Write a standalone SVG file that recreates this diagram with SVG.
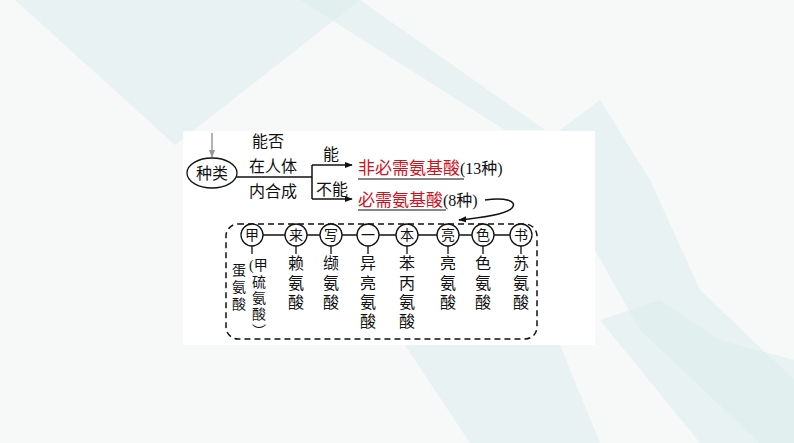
<svg xmlns="http://www.w3.org/2000/svg" width="794" height="443" viewBox="0 0 794 443">
<defs>
<style>
.t{font-family:"Liberation Serif","Noto Sans CJK SC",serif;font-size:16px;fill:#111}
.c{text-anchor:middle}
.r{fill:#d4101c;font-size:17px}
.s{font-size:14px}
.ln{stroke:#111;stroke-width:1.5;fill:none}
.cir{stroke:#111;stroke-width:1.3;fill:#fff}
.bg{fill:#d6ecec;opacity:0.45}
</style>
<marker id="ah" viewBox="0 0 10 10" refX="9" refY="5" markerWidth="8" markerHeight="8" orient="auto" markerUnits="userSpaceOnUse"><path d="M0,1 L10,5 L0,9 Z" fill="#111"/></marker>
<marker id="ahg" viewBox="0 0 10 10" refX="9" refY="5" markerWidth="8" markerHeight="8" orient="auto" markerUnits="userSpaceOnUse"><path d="M0,1 L10,5 L0,9 Z" fill="#999"/></marker>
</defs>
<rect width="794" height="443" fill="#f7f8f8"/>
<g id="background">
<polygon class="bg" points="15,0 360,0 175,145"/>
<polygon class="bg" points="360,0 300,0 505,130 545,130"/>
<polygon class="bg" points="560,130 600,100 650,180 700,290 794,380 794,443 760,443 640,330 595,250"/>
<polygon class="bg" points="405,345 560,345 600,443 470,443"/>
<polygon class="bg" points="600,320 660,300 720,340 794,360 794,443 700,443"/>
</g>
<rect x="183" y="131" width="412" height="214" fill="#fff"/>
<g id="connectors">
<line x1="212" y1="133" x2="212" y2="157" stroke="#999" stroke-width="1.5" marker-end="url(#ahg)"/>
<line class="ln" x1="236" y1="177" x2="312" y2="177"/>
<line class="ln" x1="312" y1="165" x2="312" y2="199"/>
<line class="ln" x1="312" y1="165" x2="352" y2="165" marker-end="url(#ah)"/>
<line class="ln" x1="312" y1="199" x2="352" y2="199" marker-end="url(#ah)"/>
<path class="ln" d="M485,200 C505,197 518,201 512,208 C506,215 480,218 459,220" marker-end="url(#ah)"/>
<line class="ln" x1="252" y1="235" x2="521" y2="235"/>
<g stroke="#111" stroke-width="1.3">
<line x1="252" y1="246" x2="252" y2="254"/>
<line x1="296" y1="246" x2="296" y2="254"/>
<line x1="331" y1="246" x2="331" y2="254"/>
<line x1="368" y1="246" x2="368" y2="254"/>
<line x1="407" y1="246" x2="407" y2="254"/>
<line x1="448" y1="246" x2="448" y2="254"/>
<line x1="483" y1="246" x2="483" y2="254"/>
<line x1="521" y1="246" x2="521" y2="254"/>
</g>
</g>
<g id="node-zhonglei">
<ellipse cx="212" cy="173" rx="25" ry="15" class="cir"/>
<text class="t c" x="212" y="179">种类</text>
</g>
<g id="label-question">
<text class="t c" x="268" y="147">能否</text>
<text class="t c" x="273" y="172">在人体</text>
<text class="t c" x="273" y="197">内合成</text>
</g>
<g id="label-yes"><text class="t c" x="331" y="160">能</text></g>
<g id="label-no"><text class="t c" x="332" y="195">不能</text></g>
<g id="node-nonessential">
<text class="t" x="358" y="174"><tspan class="r">非必需氨基酸</tspan>(13种)</text>
<line x1="358" y1="179" x2="464" y2="179" stroke="#111" stroke-width="1.2"/>
</g>
<g id="node-essential">
<text class="t" x="358" y="206"><tspan class="r">必需氨基酸</tspan>(8种)</text>
<line x1="358" y1="210" x2="446" y2="210" stroke="#111" stroke-width="1.2"/>
</g>
<g id="node-essential-list">
<rect x="226" y="224" width="311" height="115" rx="12" fill="none" stroke="#111" stroke-width="1.5" stroke-dasharray="6,4"/>
</g>
<g id="n-jia"><circle cx="252" cy="235" r="11" class="cir"/><text class="t c s" x="252" y="240">甲</text>
<text class="t" x="249" y="270" style="font-size:14px">(甲</text>
<text class="t c s" x="259" y="287">硫</text>
<text class="t c s" x="259" y="303">氨</text>
<text class="t c s" x="259" y="319">酸</text>
<text class="t c s" x="259" y="336">︶</text>
<text class="t c s" x="239" y="275">蛋</text>
<text class="t c s" x="239" y="292">氨</text>
<text class="t c s" x="239" y="309">酸</text>
</g>
<g id="n-lai"><circle cx="296" cy="235" r="11" class="cir"/><text class="t c s" x="296" y="240">来</text>
<text class="t c" x="296" y="269">赖</text><text class="t c" x="296" y="289">氨</text><text class="t c" x="296" y="308">酸</text></g>
<g id="n-xie"><circle cx="331" cy="235" r="11" class="cir"/><text class="t c s" x="331" y="240">写</text>
<text class="t c" x="331" y="269">缬</text><text class="t c" x="331" y="289">氨</text><text class="t c" x="331" y="308">酸</text></g>
<g id="n-yi"><circle cx="368" cy="235" r="11" class="cir"/><text class="t c s" x="368" y="240">一</text>
<text class="t c" x="368" y="269">异</text><text class="t c" x="368" y="289">亮</text><text class="t c" x="368" y="308">氨</text><text class="t c" x="368" y="327">酸</text></g>
<g id="n-ben"><circle cx="407" cy="235" r="11" class="cir"/><text class="t c s" x="407" y="240">本</text>
<text class="t c" x="407" y="269">苯</text><text class="t c" x="407" y="289">丙</text><text class="t c" x="407" y="308">氨</text><text class="t c" x="407" y="327">酸</text></g>
<g id="n-liang"><circle cx="448" cy="235" r="11" class="cir"/><text class="t c s" x="448" y="240">亮</text>
<text class="t c" x="448" y="269">亮</text><text class="t c" x="448" y="289">氨</text><text class="t c" x="448" y="308">酸</text></g>
<g id="n-se"><circle cx="483" cy="235" r="11" class="cir"/><text class="t c s" x="483" y="240">色</text>
<text class="t c" x="483" y="269">色</text><text class="t c" x="483" y="289">氨</text><text class="t c" x="483" y="308">酸</text></g>
<g id="n-shu"><circle cx="521" cy="235" r="11" class="cir"/><text class="t c s" x="521" y="240">书</text>
<text class="t c" x="521" y="269">苏</text><text class="t c" x="521" y="289">氨</text><text class="t c" x="521" y="308">酸</text></g>
</svg>
